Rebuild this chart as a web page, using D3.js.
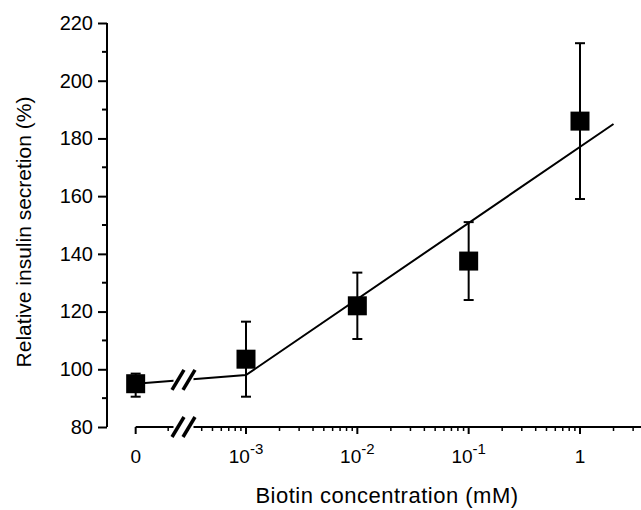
<!DOCTYPE html>
<html>
<head>
<meta charset="utf-8">
<script src="https://cdn.jsdelivr.net/npm/d3@7/dist/d3.min.js"></script>
<style>
  body { margin: 0; background: #fff; }
  svg { display: block; font-family: "Liberation Sans", Arial, sans-serif; }
</style>
</head>
<body>
<svg id="chart" width="641" height="510"></svg>
<script>
// biotin concentration (mM); 0 is drawn at the 1e-4 slot behind the axis break
var concentrations = [0, 1e-3, 1e-2, 1e-1, 1];
var secretion = [95, 103.5, 122, 137.5, 186];
var errUp = [3.5, 13, 11.5, 13.5, 27];
var errDown = [4.5, 13, 11.5, 13.5, 27];

// fitted line (two segments)
var fitX = [0, 1e-3, 2];
var fitY = [95, 98, 185];

var xTickValues = [0, 1e-3, 1e-2, 1e-1, 1];
var xTickLabels = [["0", ""], ["10", "-3"], ["10", "-2"], ["10", "-1"], ["1", ""]];
var yTicks = [80, 100, 120, 140, 160, 180, 200, 220];

var svg = d3.select("#chart");

var x = d3.scaleLog().domain([1e-3, 1]).range([246, 580]);
var y = d3.scaleLinear().domain([80, 220]).range([427, 23]);
var zeroPos = x(1e-4) + 1;
function px(v) { return v === 0 ? zeroPos : x(v); }

// y axis
var yAxis = svg.append("g")
    .attr("transform", "translate(107,0)")
    .call(d3.axisLeft(y).tickValues(yTicks).tickSize(9).tickPadding(5));
yAxis.select(".domain").attr("d", "M0," + y(220) + "V" + y(80));
yAxis.selectAll("line").attr("stroke-width", 2);
yAxis.select(".domain").attr("stroke-width", 2);
yAxis.selectAll("text").style("font-size", "20px").attr("fill", "#000");
yAxis.selectAll(".minor").data(d3.range(90, 220, 20)).enter()
    .append("line").attr("class", "minor")
    .attr("x1", -5).attr("x2", 0)
    .attr("y1", function(d) { return y(d); }).attr("y2", function(d) { return y(d); })
    .attr("stroke", "#000").attr("stroke-width", 2);

// x axis
var xAxisY = 427;
var xg = svg.append("g").attr("transform", "translate(0," + xAxisY + ")");
xg.append("line").attr("x1", zeroPos).attr("x2", 641).attr("y1", 0).attr("y2", 0)
    .attr("stroke", "#000").attr("stroke-width", 2);

var minorX = [];
[1e-4, 1e-3, 1e-2, 1e-1, 1].forEach(function(dec) {
  for (var k = 2; k <= 9; k++) {
    var v = dec * k;
    if (x(v) < 641) minorX.push(v);
  }
});
xg.selectAll(".xminor").data(minorX).enter().append("line")
    .attr("x1", function(d) { return x(d); }).attr("x2", function(d) { return x(d); })
    .attr("y1", 0).attr("y2", 4)
    .attr("stroke", "#000").attr("stroke-width", 1.5);
xg.selectAll(".xmajor").data(xTickValues).enter().append("line")
    .attr("x1", function(d) { return px(d); }).attr("x2", function(d) { return px(d); })
    .attr("y1", 0).attr("y2", 7)
    .attr("stroke", "#000").attr("stroke-width", 2);

var xlab = xg.selectAll(".xlab").data(xTickValues).enter().append("text")
    .attr("x", function(d) { return px(d); })
    .attr("y", 36)
    .attr("text-anchor", "middle")
    .style("font-size", "19px");
xlab.append("tspan").text(function(d, i) { return xTickLabels[i][0]; });
xlab.append("tspan").attr("dy", -9).style("font-size", "15px")
    .text(function(d, i) { return xTickLabels[i][1]; });

// axis break marks
function drawBreak(g, cx, cy) {
  g.append("rect").attr("x", cx - 10).attr("y", cy - 3).attr("width", 20).attr("height", 6).attr("fill", "#fff");
  [-5.5, 5.5].forEach(function(o) {
    g.append("line")
      .attr("x1", cx + o - 6).attr("y1", cy + 10)
      .attr("x2", cx + o + 6).attr("y2", cy - 10)
      .attr("stroke", "#000").attr("stroke-width", 3.5);
  });
}

// fitted line
var line = d3.line().x(function(d) { return px(d[0]); }).y(function(d) { return y(d[1]); });
svg.append("path")
    .datum(d3.zip(fitX, fitY))
    .attr("d", line)
    .attr("fill", "none").attr("stroke", "#000").attr("stroke-width", 2);

// error bars
var pts = svg.selectAll(".pt").data(concentrations).enter().append("g");
pts.append("line")
    .attr("x1", function(d) { return px(d); }).attr("x2", function(d) { return px(d); })
    .attr("y1", function(d, i) { return y(secretion[i] + errUp[i]); })
    .attr("y2", function(d, i) { return y(secretion[i] - errDown[i]); })
    .attr("stroke", "#000").attr("stroke-width", 2);
[errUp, errDown].forEach(function(arr, s) {
  pts.append("line")
    .attr("x1", function(d) { return px(d) - 5; }).attr("x2", function(d) { return px(d) + 5; })
    .attr("y1", function(d, i) { return y(secretion[i] + (s ? -arr[i] : arr[i])); })
    .attr("y2", function(d, i) { return y(secretion[i] + (s ? -arr[i] : arr[i])); })
    .attr("stroke", "#000").attr("stroke-width", 2);
});
pts.append("rect")
    .attr("x", function(d) { return px(d) - 9.5; })
    .attr("y", function(d, i) { return y(secretion[i]) - 9.5; })
    .attr("width", 19).attr("height", 19)
    .attr("fill", "#000");

// breaks
var breakX = 183.5;
drawBreak(svg, breakX, xAxisY);
var lineBreakY = y(95 + (98 - 95) * (breakX - zeroPos) / (x(1e-3) - zeroPos));
drawBreak(svg, breakX, lineBreakY);

// titles
svg.append("text")
    .attr("x", 387).attr("y", 503)
    .attr("text-anchor", "middle")
    .style("font-size", "22px")
    .style("letter-spacing", "0.5px")
    .text("Biotin concentration (mM)");
svg.append("text")
    .attr("transform", "translate(31,232) rotate(-90)")
    .attr("text-anchor", "middle")
    .style("font-size", "21px")
    .text("Relative insulin secretion (%)");
</script>
</body>
</html>
